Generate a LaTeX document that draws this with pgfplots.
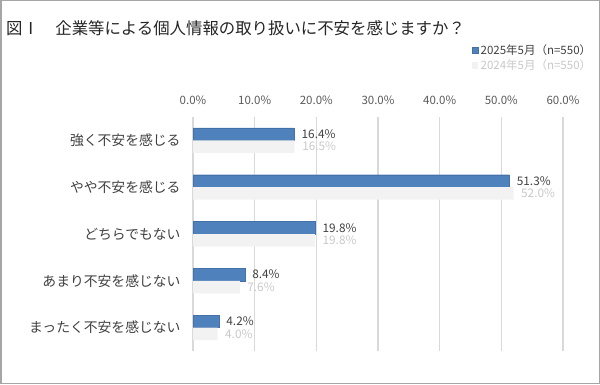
\documentclass[border=0pt]{standalone}
\usepackage{fontspec}
\setmainfont{Noto Sans CJK JP}
\usepackage{pgfplots}
\pgfplotsset{compat=1.18}
\definecolor{barblue}{HTML}{4F81BD}
\definecolor{barblueedge}{HTML}{4472A8}
\definecolor{bargray}{HTML}{F2F2F2}
\definecolor{lbl}{HTML}{404040}
\definecolor{lblgray}{HTML}{C8C8C8}
\definecolor{tickgray}{HTML}{595959}
\definecolor{gridgray}{HTML}{D9D9D9}
\definecolor{framegray}{HTML}{A6A6A6}
\begin{document}
\begin{tikzpicture}
\useasboundingbox (0,0) rectangle (600pt,384pt);
\draw[framegray, line width=1.5pt] (0.75pt,0.75pt) rectangle (599.25pt,383.25pt);
\node[anchor=west, font=\fontsize{16.4}{18}\selectfont, text=black!85, inner sep=0pt] at (6pt,356pt) {図Ⅰ　企業等による個人情報の取り扱いに不安を感じますか？};
\begin{axis}[
  at={(193pt,33pt)}, anchor=south west,
  scale only axis, width=370pt, height=234pt,
  xbar, bar width=12.5pt,
  xmin=0, xmax=60, ymin=-0.5, ymax=4.5,
  xtick={0,10,20,30,40,50,60},
  xticklabels={0.0\%,10.0\%,20.0\%,30.0\%,40.0\%,50.0\%,60.0\%},
  xticklabel pos=upper,
  ytick={0,1,2,3,4},
  yticklabels={まったく不安を感じない,あまり不安を感じない,どちらでもない,やや不安を感じる,強く不安を感じる},
  axis line style={draw=none},
  major tick length=0pt,
  tick style={draw=none},
  xmajorgrids, grid style={gridgray, line width=1.2pt},
  xticklabel style={font=\fontsize{11.5}{13}\selectfont, text=tickgray, yshift=9pt},
  yticklabel style={font=\fontsize{13.8}{15}\selectfont, text=lbl, xshift=-9pt},
  legend style={at={(axis description cs:1.082,1.318)}, anchor=north east, draw=none, fill=none,
    font=\fontsize{11.5}{13}\selectfont, text=lbl, row sep=0pt, inner sep=0pt},
  legend cell align=left,
  legend image code/.code={\fill[#1] (0pt,-3pt) rectangle (6pt,3.5pt);},
  clip=false,
]
\addplot[fill=barblue, draw=barblueedge, bar shift=6.25pt,
  point meta=explicit symbolic, nodes near coords={\pgfplotspointmeta},
  nodes near coords style={anchor=west, font=\fontsize{11.8}{13}\selectfont, text=lbl, xshift=4pt}]
  coordinates {(16.4,4) [16.4\%] (51.3,3) [51.3\%] (19.8,2) [19.8\%] (8.4,1) [8.4\%] (4.2,0) [4.2\%]};
\addlegendentry{2025年5月（n=550）}
\addplot[fill=bargray, draw=none, bar shift=-6.25pt,
  point meta=explicit symbolic, nodes near coords={\pgfplotspointmeta},
  nodes near coords style={anchor=west, font=\fontsize{11.8}{13}\selectfont, text=lblgray, xshift=4pt}]
  coordinates {(16.5,4) [16.5\%] (52.0,3) [52.0\%] (19.8,2) [19.8\%] (7.6,1) [7.6\%] (4.0,0) [4.0\%]};
\addlegendentry{\textcolor{lblgray}{2024年5月（n=550）}}
\end{axis}
\end{tikzpicture}
\end{document}
